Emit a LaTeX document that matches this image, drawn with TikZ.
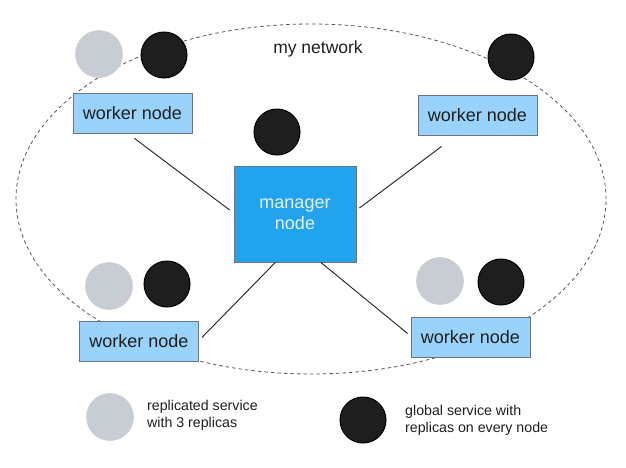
\documentclass[tikz,border=0pt]{standalone}
\usepackage{fontspec}
\setmainfont{Liberation Sans}
\usetikzlibrary{calc,shapes.geometric}
\definecolor{workerfill}{HTML}{99D3FB}
\definecolor{mgrfill}{HTML}{22A3EE}
\definecolor{mgrtext}{HTML}{E4F3FD}
\definecolor{inkdark}{HTML}{1E1E1E}
\definecolor{replgray}{HTML}{C8CDD3}
\definecolor{boxline}{HTML}{6B7580}
\tikzset{
  worker/.style={draw=boxline, line width=0.8pt, fill=workerfill, minimum width=119pt, minimum height=40pt, inner sep=0pt, text=inkdark, font=\fontsize{18}{20}\selectfont},
  manager/.style={draw=boxline, line width=0.8pt, fill=mgrfill, minimum width=122pt, minimum height=96pt, inner sep=0pt, text=mgrtext, align=center, font=\fontsize{18}{21}\selectfont},
  globalsvc/.style={circle, draw=black, line width=1pt, fill=inkdark, minimum size=46pt, inner sep=0pt},
  replsvc/.style={circle, draw=replgray, line width=0.6pt, fill=replgray, minimum size=47pt, inner sep=0pt},
  link/.style={draw=inkdark, line width=0.9pt},
  legendtext/.style={anchor=west, align=left, inner sep=0pt, text=inkdark, font=\fontsize{14.2}{17}\selectfont}
}
\begin{document}
\begin{tikzpicture}[x=1pt, y=-1pt]
\useasboundingbox (0,0) rectangle (626,467);
% network boundary
\node[draw=inkdark!75, dash pattern=on 3.5pt off 3pt, line width=0.8pt, ellipse, minimum width=590pt, minimum height=350pt, inner sep=0pt] (net) at (311,199) {};
\node[text=inkdark, font=\fontsize{17.5}{20}\selectfont] (netlabel) at (318,49) {my network};
% workers
\node[worker] (tlw) at (132.5,113) {worker node};
\node[worker] (trw) at (477.5,115) {worker node};
\node[worker] (blw) at (139,341.5) {worker node};
\node[worker] (brw) at (470.5,337.5) {worker node};
% manager
\node[manager] (mgr) at (295,214) {manager\\node};
% services
\node[replsvc] (tlr) at (99,54) {};
\node[globalsvc] (tlg) at (164,55) {};
\node[globalsvc] (mg) at (277,132) {};
\node[globalsvc] (trg) at (511,57) {};
\node[replsvc] (blr) at (109,286) {};
\node[globalsvc] (blg) at (167,284) {};
\node[replsvc] (brr) at (440,281) {};
\node[globalsvc] (brg) at (501,282) {};
% connectors
\draw[link] ($(tlw.south)+(2,5)$) -- ($(mgr.west)+(-4,-4)$);
\draw[link] ($(trw.south west)!0.2!(trw.south east)+(0,11)$) -- ($(mgr.east)+(3,-6)$);
\draw[link] ($(blw.east)+(3,-4)$) -- ($(mgr.south west)!0.34!(mgr.south east)$);
\draw[link] ($(brw.west)+(-3,-4)$) -- ($(mgr.south west)!0.71!(mgr.south east)$);
% legend
\node[replsvc] (legr) at (110,417) {};
\node[legendtext] (legrt) at (147,415) {replicated service\\with 3 replicas};
\node[globalsvc] (legg) at (363,420) {};
\node[legendtext] (leggt) at (405,420) {global service with\\replicas on every node};
\end{tikzpicture}
\end{document}
